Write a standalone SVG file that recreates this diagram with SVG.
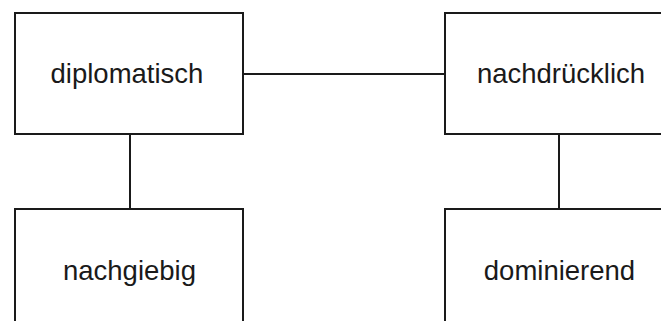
<svg xmlns="http://www.w3.org/2000/svg" width="661" height="321" viewBox="0 0 661 321">
  <style>
    .box { fill: #ffffff; stroke: #1a1a1a; stroke-width: 2; }
    .edge { stroke: #1a1a1a; stroke-width: 2; fill: none; }
    .label { font-family: "Liberation Sans", Arial, sans-serif; font-size: 27.5px; fill: #1a1a1a; text-anchor: middle; }
  </style>
  <rect width="661" height="321" fill="#ffffff"/>
  <g id="connectors">
    <line class="edge" x1="243" y1="74" x2="445" y2="74"/>
    <line class="edge" x1="130" y1="134" x2="130" y2="209"/>
    <line class="edge" x1="559" y1="134" x2="559" y2="209"/>
  </g>
  <g id="node-diplomatisch">
    <rect class="box" x="15" y="13" width="228" height="121"/>
    <text class="label" x="127" y="83">diplomatisch</text>
  </g>
  <g id="node-nachdruecklich">
    <rect class="box" x="445" y="13" width="228" height="121"/>
    <text class="label" x="561" y="83">nachdrücklich</text>
  </g>
  <g id="node-nachgiebig">
    <rect class="box" x="15" y="209" width="228" height="121"/>
    <text class="label" x="129.5" y="280">nachgiebig</text>
  </g>
  <g id="node-dominierend">
    <rect class="box" x="445" y="209" width="228" height="121"/>
    <text class="label" x="559.5" y="280">dominierend</text>
  </g>
</svg>
